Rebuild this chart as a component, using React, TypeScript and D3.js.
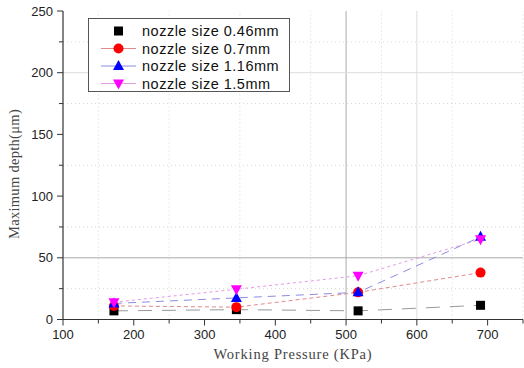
import React from "react";
import * as d3 from "d3";

const pressures = [172, 345, 517, 690];
const depth046 = [7, 8, 7, 11.5];
const depth07 = [11, 10, 22, 38];
const depth116 = [13, 17.5, 22, 67];
const depth15 = [14, 24.5, 35.5, 65];
const seriesNames = ["nozzle size 0.46mm", "nozzle size 0.7mm", "nozzle size 1.16mm", "nozzle size 1.5mm"];
const xTicks = [100, 200, 300, 400, 500, 600, 700];
const yTicks = [0, 50, 100, 150, 200, 250];

const W = 524, H = 368;
const x = d3.scaleLinear().domain([100, 750]).range([63, 523]);
const y = d3.scaleLinear().domain([0, 250]).range([319.5, 11]);

const series = [
  { name: seriesNames[0], values: depth046, color: "#000", line: "#999", dash: "14,10", sym: "square" },
  { name: seriesNames[1], values: depth07, color: "#ff0000", line: "#e08a8a", dash: "4,3", sym: "circle" },
  { name: seriesNames[2], values: depth116, color: "#0000ff", line: "#8c8ce0", dash: "8,6", sym: "triangle" },
  { name: seriesNames[3], values: depth15, color: "#ff00ff", line: "#e59ae5", dash: "3,3", sym: "triangleDown" },
];

function Symbol({ kind, cx, cy, color }: { kind: string; cx: number; cy: number; color: string }) {
  if (kind === "square") return <rect x={cx - 4.5} y={cy - 4.5} width={9} height={9} fill={color} />;
  if (kind === "circle") return <circle cx={cx} cy={cy} r={5} fill={color} />;
  if (kind === "triangle") return <path d={`M${cx},${cy - 6}L${cx + 5.5},${cy + 4}L${cx - 5.5},${cy + 4}Z`} fill={color} />;
  return <path d={`M${cx},${cy + 6}L${cx + 5.5},${cy - 4}L${cx - 5.5},${cy - 4}Z`} fill={color} />;
}

export default function App() {
  const line = d3.line<number>().x((_, i) => x(pressures[i])).y((v) => y(v));
  const minorX = d3.range(150, 751, 100);
  const minorY = d3.range(25, 250, 50);
  return (
    <svg width={W} height={H} style={{ position: "absolute", left: 0, top: 0, background: "#fff" }}>
      {minorX.map((v) => (
        <line key={"gx" + v} x1={x(v)} x2={x(v)} y1={y(0)} y2={y(250)} stroke="#ccc" strokeWidth={0.8} strokeDasharray="1,3" />
      ))}
      {minorY.map((v) => (
        <line key={"gy" + v} x1={x(100)} x2={x(750)} y1={y(v)} y2={y(v)} stroke="#ccc" strokeWidth={0.8} strokeDasharray="1,3" />
      ))}
      {[500, 600].map((v) => (
        <line key={"Mx" + v} x1={x(v)} x2={x(v)} y1={y(0)} y2={y(250)} stroke={v === 500 ? "#aaa" : "#ddd"} strokeWidth={1} />
      ))}
      {[50, 200].map((v) => (
        <line key={"My" + v} x1={x(100)} x2={x(750)} y1={y(v)} y2={y(v)} stroke={v === 50 ? "#aaa" : "#ddd"} strokeWidth={1} />
      ))}
      {series.map((s) => (
        <path key={"l" + s.name} d={line(s.values) || ""} fill="none" stroke={s.line} strokeWidth={1} strokeDasharray={s.dash} />
      ))}
      {series.map((s) =>
        s.values.map((v, i) => (
          <Symbol key={s.name + i} kind={s.sym} cx={x(pressures[i])} cy={y(v)} color={s.color} />
        ))
      )}
      <line x1={x(100)} x2={x(100)} y1={y(0)} y2={y(250)} stroke="#333" strokeWidth={1.2} />
      <line x1={x(100)} x2={x(750)} y1={y(0)} y2={y(0)} stroke="#333" strokeWidth={1.2} />
      {d3.range(0, 251, 25).map((v) => (
        <line key={"yt" + v} x1={x(100) - (v % 50 === 0 ? 6 : 4)} x2={x(100)} y1={y(v)} y2={y(v)} stroke="#333" strokeWidth={1} />
      ))}
      {d3.range(100, 751, 50).map((v) => (
        <line key={"xt" + v} x1={x(v)} x2={x(v)} y1={y(0)} y2={y(0) + (v % 100 === 0 ? 6 : 4)} stroke="#333" strokeWidth={1} />
      ))}
      {yTicks.map((v) => (
        <text key={"yl" + v} x={x(100) - 10} y={y(v)} dy="0.35em" textAnchor="end" fontFamily="Liberation Sans, Arial, sans-serif" fontSize={13} fill="#222">{v}</text>
      ))}
      {xTicks.map((v) => (
        <text key={"xl" + v} x={x(v)} y={y(0) + 19} textAnchor="middle" fontFamily="Liberation Sans, Arial, sans-serif" fontSize={13} fill="#222">{v}</text>
      ))}
      <text x={293} y={359} textAnchor="middle" fontFamily="Liberation Serif, Times New Roman, serif" fontSize={14.5} letterSpacing={0.8} fill="#444">Working Pressure (KPa)</text>
      <text transform="translate(19,174) rotate(-90)" textAnchor="middle" fontFamily="Liberation Serif, Times New Roman, serif" fontSize={14.5} letterSpacing={0.3} fill="#444">Maximum depth(μm)</text>
      <rect x={88.5} y={18.5} width={201} height={73} fill="#fff" stroke="#555" strokeWidth={1} />
      {series.map((s, i) => {
        const cy = 31 + i * 17.5;
        return (
          <g key={"lg" + i}>
            {i > 0 && <line x1={101} x2={136} y1={cy} y2={cy} stroke={s.line} strokeWidth={1} />}
            <Symbol kind={s.sym} cx={118.5} cy={cy} color={s.color} />
            <text x={142} y={cy} dy="0.35em" fontFamily="Liberation Sans, Arial, sans-serif" fontSize={14.5} letterSpacing={0.5} fill="#111">{s.name}</text>
          </g>
        );
      })}
    </svg>
  );
}
